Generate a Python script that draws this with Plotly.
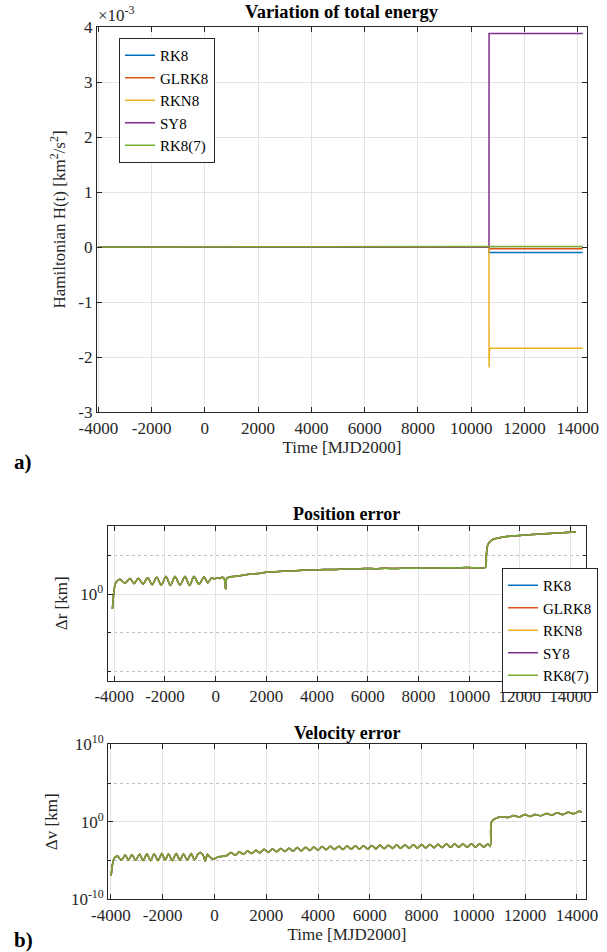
import numpy as np
import plotly.graph_objects as go

SERIF = "Liberation Serif"

methods = ["RK8", "GLRK8", "RKN8", "SY8", "RK8(7)"]
colors = ["#0072BD", "#D95319", "#EDB120", "#7E2F8E", "#77AC30"]

# a) variation of the Hamiltonian [km^2/s^2]
energy_t = [-4000, 10670, 10672, 10690, 14190]
energy_rk8 = [0, 0, -0.10e-3, -0.10e-3, -0.10e-3]
energy_glrk8 = [0, 0, -0.03e-3, -0.03e-3, -0.03e-3]
energy_rkn8 = [0, 0, -2.19e-3, -1.84e-3, -1.84e-3]
energy_sy8 = [0, 0, 3.88e-3, 3.88e-3, 3.88e-3]
energy_rk87 = [0, 0, 0.01e-3, 0.01e-3, 0.01e-3]

# b) position error, log10(dr [km])
pos_t = [-4075, -4050, -4020, -3980, -3920, -3860,
         -3775, -3578, -3381, -3217, -3053, -2868, -2683, -2505, -2328, -2145,
         -1961, -1784, -1606, -1408, -1211, -1034, -856, -659, -462, -310, -158,
         -60, 50, 150, 260, 340, 394, 430, 520,
         800, 1100, 1400, 1700, 2000, 2300, 2700, 3100, 3500, 3900, 4300, 4700,
         5100, 5500, 5900, 6300, 6700, 7100, 7500, 7900, 8300, 8700, 9100, 9500,
         9900, 10300, 10640, 10680, 10720, 10800, 10950, 11200, 11480, 11800,
         12270, 12700, 13190, 13700, 14000, 14215]
pos_log = [-0.38, -0.20, 0.05, 0.22, 0.33, 0.36,
           0.39, 0.29, 0.41, 0.28, 0.42, 0.27, 0.43, 0.25, 0.44, 0.24,
           0.46, 0.23, 0.46, 0.24, 0.46, 0.23, 0.46, 0.26, 0.45, 0.30, 0.43,
           0.40, 0.43, 0.41, 0.44, 0.40, 0.13, 0.40, 0.45,
           0.47, 0.50, 0.53, 0.54, 0.575, 0.58, 0.605, 0.61, 0.63, 0.63, 0.645, 0.645,
           0.66, 0.655, 0.67, 0.665, 0.675, 0.67, 0.68, 0.675, 0.685, 0.68, 0.69, 0.685,
           0.695, 0.69, 0.695, 1.00, 1.25, 1.35, 1.43, 1.47, 1.50, 1.52,
           1.54, 1.56, 1.58, 1.60, 1.61, 1.62]

# b) velocity error, log10(dv)
vel_t = [-3990, -3960, -3920, -3870, -3800,
         -3745, -3597, -3448, -3319, -3190, -3043, -2895, -2753, -2610, -2469,
         -2328, -2180, -2031, -1904, -1776, -1628, -1479, -1338, -1197, -1049,
         -900, -771, -641, -552, -425, -359, -270, -166, -39, 154, 347,
         480, 640, 800, 960, 1120, 1280, 1440, 1600, 1760, 1920, 2080, 2240,
         2400, 2560, 2720, 2880, 3040, 3200, 3360, 3520, 3680, 3840, 4000, 4160,
         4320, 4480, 4640, 4800, 4960, 5120, 5280, 5440, 5600, 5760, 5920, 6080,
         6240, 6400, 6560, 6720, 6880, 7040, 7200, 7360, 7520, 7680, 7840, 8000,
         8160, 8320, 8480, 8640, 8800, 8960, 9120, 9280, 9440, 9600, 9760, 9920,
         10080, 10240, 10400, 10560, 10650, 10672, 10700, 10800, 10950,
         11158, 11351, 11548, 11776, 11996, 12190, 12382, 12608, 12834, 13040,
         13243, 13455, 13668, 13880, 14093, 14186]
vel_log = [-7.0, -6.0, -5.2, -4.7, -4.5,
           -4.4, -4.95, -4.3, -4.95, -4.25, -4.95, -4.2, -5.0, -4.15, -5.0,
           -4.15, -5.0, -4.1, -4.95, -4.15, -5.0, -4.1, -4.95, -4.15, -4.95,
           -4.1, -4.9, -4.2, -3.95, -4.4, -5.1, -4.2, -4.6, -4.8, -4.5, -4.45,
           -4.35, -3.95, -4.3, -3.85, -4.2, -3.78, -4.1, -3.68, -4.0, -3.55, -3.92, -3.5,
           -3.86, -3.45, -3.82, -3.4, -3.78, -3.32, -3.74, -3.28, -3.7, -3.24, -3.66, -3.2,
           -3.6, -3.16, -3.58, -3.14, -3.56, -3.12, -3.54, -3.1, -3.52, -3.08, -3.5, -3.06,
           -3.48, -3.04, -3.46, -3.02, -3.44, -3.0, -3.42, -2.98, -3.4, -2.96, -3.38, -2.94,
           -3.36, -2.92, -3.34, -2.9, -3.32, -2.88, -3.3, -2.86, -3.28, -2.85, -3.27, -2.84,
           -3.26, -2.83, -3.25, -2.85, -3.2, -0.9, -0.05, 0.3, 0.55,
           0.65, 0.55, 0.81, 0.62, 0.94, 0.68, 0.94, 0.78, 1.07, 0.86,
           1.16, 0.93, 1.24, 1.03, 1.37, 1.22]

x_ticks = [-4000, -2000, 0, 2000, 4000, 6000, 8000, 10000, 12000, 14000]
x_labels = ["-4000", "-2000", "0", "2000", "4000", "6000", "8000", "10000", "12000", "14000"]
h_ticks = [-3, -2, -1, 0, 1, 2, 3, 4]
h_labels = ["-3", "-2", "-1", "0", "1", "2", "3", "4"]

energy_series = [energy_rk8, energy_glrk8, energy_rkn8, energy_sy8, energy_rk87]

fig = go.Figure()
for name, col, e in zip(methods, colors, energy_series):
    fig.add_trace(go.Scatter(x=energy_t, y=np.array(e) * 1e3, mode="lines", name=name,
                             line=dict(color=col, width=1.5), xaxis="x", yaxis="y",
                             legend="legend"))
for name, col in zip(methods, colors):
    fig.add_trace(go.Scatter(x=pos_t, y=10 ** np.array(pos_log), mode="lines", name=name,
                             line=dict(color=col, width=1.5, shape="spline", smoothing=0.8),
                             xaxis="x2", yaxis="y2", legend="legend2"))
for name, col in zip(methods, colors):
    fig.add_trace(go.Scatter(x=vel_t, y=10 ** np.array(vel_log), mode="lines", name=name,
                             line=dict(color=col, width=1.5, shape="spline", smoothing=0.8),
                             xaxis="x3", yaxis="y3", showlegend=False))

W, H = 607, 952
tick_font = dict(family=SERIF, size=17, color="#262626")
label_font = dict(family=SERIF, size=17, color="#262626")
ax = dict(showline=True, linecolor="#262626", linewidth=1.3, mirror="ticks",
          ticks="inside", ticklen=5, tickcolor="#262626", showgrid=True,
          gridcolor="#E3E3E3", gridwidth=1, zeroline=False, tickfont=tick_font,
          automargin=False)


def px_x(a):
    return a / W


def px_y(b):
    return 1 - b / H


def xd(a, b):
    return [px_x(a), px_x(b)]


def yd(top, bottom):
    return [px_y(bottom), px_y(top)]


minor_log = dict(ticks="inside", ticklen=3, tickcolor="#262626", showgrid=True,
                 griddash="dot", gridcolor="#C0C0C0", gridwidth=1)

legend_style = dict(yanchor="top", bgcolor="white",
                    bordercolor="#262626", borderwidth=1, tracegroupgap=0,
                    font=dict(family=SERIF, size=15, color="black"))

fig.update_layout(
    width=W, height=H, margin=dict(l=0, r=0, t=0, b=0, autoexpand=False),
    paper_bgcolor="white", plot_bgcolor="white",
    font=dict(family=SERIF, size=16, color="#262626"),
    xaxis=dict(ax, domain=xd(97, 587), range=[-4050, 14350], tickvals=x_ticks,
               ticktext=x_labels, anchor="y",
               title=dict(text="Time [MJD2000]", standoff=3, font=label_font)),
    yaxis=dict(ax, domain=yd(27, 412), range=[-3, 4], tickvals=h_ticks,
               ticktext=h_labels, anchor="x",
               title=dict(text="Hamiltonian H(t) [km<sup>2</sup>/s<sup>2</sup>]",
                          standoff=8, font=label_font)),
    xaxis2=dict(ax, domain=xd(107.7, 585.7), range=[-4260, 14600], tickvals=x_ticks,
                ticktext=x_labels, anchor="y2"),
    yaxis2=dict(ax, domain=yd(526, 680.7), type="log", range=[-2.244, 1.774],
                tickvals=[1], ticktext=["10<sup>0</sup>"], anchor="x2",
                minor=dict(minor_log, tickvals=[0.01, 0.1, 10]),
                title=dict(text="\u0394r [km]", standoff=8, font=label_font)),
    xaxis3=dict(ax, domain=xd(108.3, 585.7), range=[-4100, 14340], tickvals=x_ticks,
                ticktext=x_labels, anchor="y3",
                title=dict(text="Time [MJD2000]", standoff=3, font=label_font)),
    yaxis3=dict(ax, domain=yd(744.3, 899.3), type="log", range=[-10, 10],
                tickvals=[1e-10, 1, 1e10],
                ticktext=["10<sup>-10</sup>", "10<sup>0</sup>", "10<sup>10</sup>"],
                anchor="x3",
                minor=dict(minor_log, tickvals=[1e-5, 1e5]),
                title=dict(text="\u0394v [km]", standoff=8, font=label_font)),
    legend=dict(legend_style, x=px_x(119), y=px_y(38), xanchor="left"),
    legend2=dict(legend_style, x=px_x(598), y=px_y(568), xanchor="right"),
)

notes = [
    ("<b>Variation of total energy</b>", 342, 12, "center",
     dict(family=SERIF, size=18.5, color="black")),
    ("<b>Position error</b>", 346.7, 514, "center", dict(family=SERIF, size=18, color="black")),
    ("<b>Velocity error</b>", 347, 733, "center", dict(family=SERIF, size=18, color="black")),
    ("\u00d710<sup>-3</sup>", 96, 14, "left", label_font),
    ("<b>a)</b>", 12, 462, "left", dict(family=SERIF, size=21, color="black")),
    ("<b>b)</b>", 12, 940, "left", dict(family=SERIF, size=21, color="black")),
]
for text, px, py, anchor, fnt in notes:
    fig.add_annotation(text=text, x=px_x(px), y=px_y(py), xref="paper", yref="paper",
                       xanchor=anchor, yanchor="middle", showarrow=False, font=fnt)

# drop the browser's default 8px page margin so the figure fills the window
fig.write_html("out.html", config={"displayModeBar": False},
               post_script="document.body.style.margin = '0';")
